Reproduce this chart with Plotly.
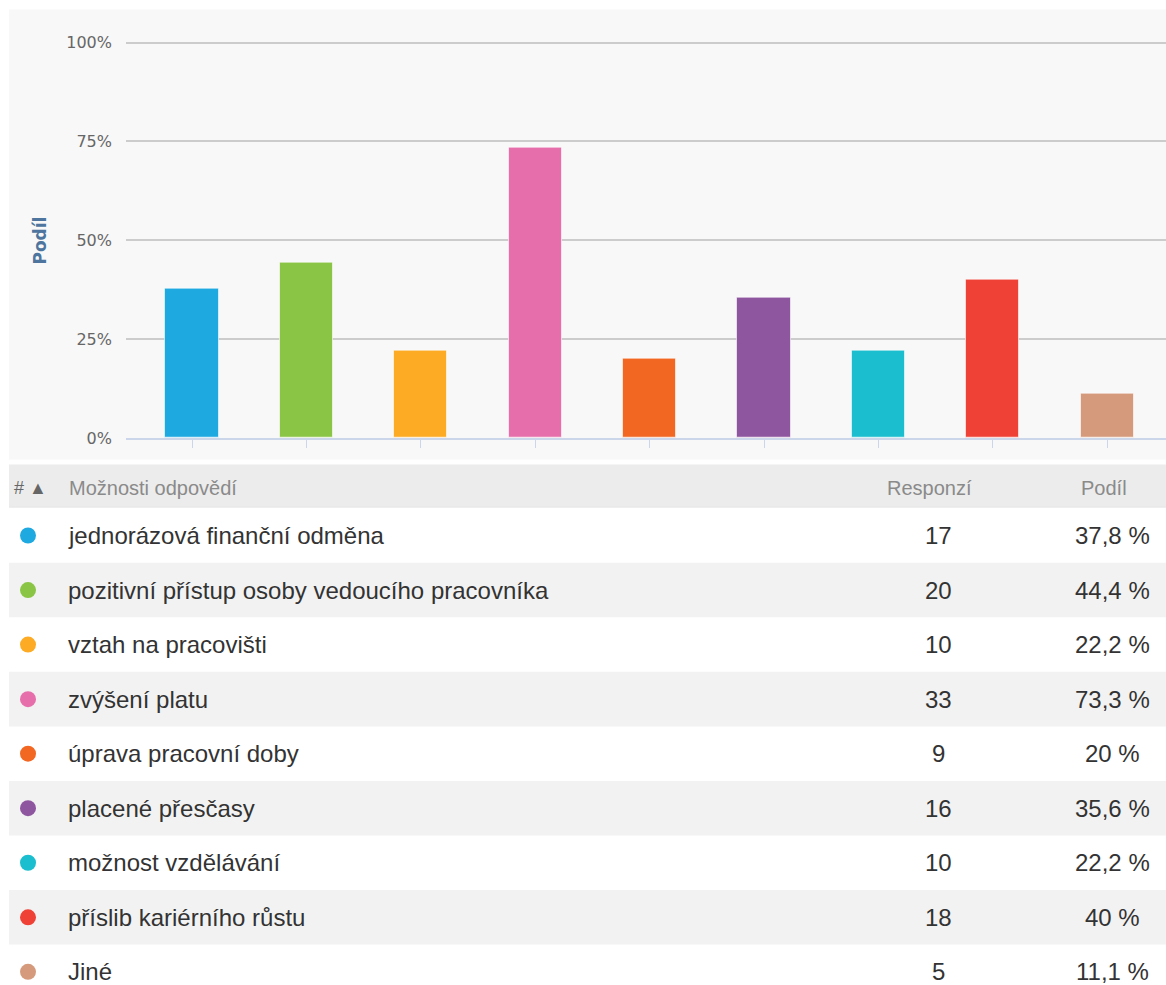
import plotly.graph_objects as go

# ---- data ----
categories = [
    "jednorázová finanční odměna",
    "pozitivní přístup osoby vedoucího pracovníka",
    "vztah na pracovišti",
    "zvýšení platu",
    "úprava pracovní doby",
    "placené přesčasy",
    "možnost vzdělávání",
    "příslib kariérního růstu",
    "Jiné",
]
responses = [17, 20, 10, 33, 9, 16, 10, 18, 5]
shares = [37.8, 44.4, 22.2, 73.3, 20.0, 35.6, 22.2, 40.0, 11.1]
share_labels = ["37,8 %", "44,4 %", "22,2 %", "73,3 %", "20 %", "35,6 %", "22,2 %", "40 %", "11,1 %"]
colors = ["#1fa9e1", "#8bc546", "#fdab24", "#e66fab", "#f26722", "#8f56a0",
          "#1bbecf", "#ef4136", "#d59a7c"]
y_ticks = [0, 25, 50, 75, 100]
y_tick_labels = ["0%", "25%", "50%", "75%", "100%"]
header = ["# ▲", "Možnosti odpovědí", "Responzí", "Podíl"]

W, H = 1166, 985
SY, OY = 0.989, 1.4  # vertical compensation of the photographed page


def pset(p):
    return (p - OY) / SY


def py(p):
    """target pixel y (top-down) to paper y"""
    return 1 - pset(p) / H


def px(p):
    return p / W


fig = go.Figure()

# ---- bar chart ----
xi = list(range(len(categories)))
fig.add_trace(go.Bar(
    x=xi, y=shares, marker=dict(color=colors, line=dict(color="rgba(255,255,255,0.6)", width=1)),
    width=0.465, xaxis="x", yaxis="y", showlegend=False, hoverinfo="skip",
))

# ---- table dots ----
rows = list(range(len(categories)))
fig.add_trace(go.Scatter(
    x=[28] * len(rows), y=rows, mode="markers", cliponaxis=False,
    marker=dict(color=colors, size=16, line=dict(width=0)),
    xaxis="x2", yaxis="y2", showlegend=False, hoverinfo="skip",
))

shapes = []
# chart background
shapes.append(dict(type="rect", xref="paper", yref="paper", x0=px(9), x1=1, y0=py(460), y1=py(10),
                   fillcolor="#f8f8f8", line=dict(width=0), layer="below"))
# table header background
shapes.append(dict(type="rect", xref="paper", yref="paper", x0=px(9), x1=1, y0=py(507), y1=py(465),
                   fillcolor="#ececec", line=dict(width=0), layer="below"))
shapes.append(dict(type="line", xref="paper", yref="paper", x0=px(9), x1=1, y0=py(507.5), y1=py(507.5),
                   line=dict(color="#dddddd", width=1), layer="below"))
# alternating rows
for i in rows:
    if i % 2 == 1:
        shapes.append(dict(type="rect", xref="x2", yref="y2", x0=9, x1=W, y0=i - 0.5, y1=i + 0.5,
                           fillcolor="#f2f2f2", line=dict(width=0), layer="below"))

annotations = []
# axis title
annotations.append(dict(text="<b>Podíl</b>", xref="paper", yref="paper", x=px(40), y=py(241),
                        textangle=-90, showarrow=False, xanchor="center", yanchor="middle",
                        font=dict(family="DejaVu Sans", size=17, color="#4d759e")))

tfont = dict(family="Liberation Sans", size=24, color="#333333")
hfont = dict(family="Liberation Sans", size=20, color="#8a8a8a")
hy = -0.88
annotations.append(dict(text=header[0], xref="x2", yref="y2", x=12, y=hy, showarrow=False,
                        xanchor="left", yanchor="middle",
                        font=dict(family="Liberation Sans", size=18, color="#666666")))
annotations.append(dict(text=header[1], xref="x2", yref="y2", x=67, y=hy, showarrow=False,
                        xanchor="left", yanchor="middle", font=hfont))
annotations.append(dict(text=header[2], xref="x2", yref="y2", x=929, y=hy, showarrow=False,
                        xanchor="center", yanchor="middle", font=hfont))
annotations.append(dict(text=header[3], xref="x2", yref="y2", x=1104, y=hy, showarrow=False,
                        xanchor="center", yanchor="middle", font=hfont))
for i in rows:
    annotations.append(dict(text=categories[i], xref="x2", yref="y2", x=66, y=i, showarrow=False,
                            xanchor="left", yanchor="middle", font=tfont))
    annotations.append(dict(text=str(responses[i]), xref="x2", yref="y2", x=938, y=i, showarrow=False,
                            xanchor="center", yanchor="middle", font=tfont))
    annotations.append(dict(text=share_labels[i], xref="x2", yref="y2", x=1112, y=i, showarrow=False,
                            xanchor="center", yanchor="middle", font=tfont))

# y axis: 0% at target pixel 438, 100% at 43
p0, p100 = pset(438.5), pset(43)
ppp = (p0 - p100) / 100.0
ytop = 102
y_dom0 = 1 - p0 / H
y_dom1 = 1 - (p0 - ytop * ppp) / H

# x mapping: centers at 192 + 114.4*i, plot from 126 to 1166
step = 114.4
r0 = -(192 - 126) / step
r1 = r0 + (1166 - 126) / step

# table axis: row i center at target pixel 536 + 54.5*i
c0 = pset(536)
rstep = 54.55 / SY
t_top = (pset(465) - c0) / rstep
t_bot = (H - c0) / rstep

fig.update_layout(
    width=W, height=H, margin=dict(l=0, r=0, t=0, b=0),
    paper_bgcolor="white", plot_bgcolor="rgba(0,0,0,0)",
    bargap=0,
    xaxis=dict(domain=[px(126), 1], range=[r0, r1], showticklabels=False,
               showgrid=False, zeroline=False, showline=True, linecolor="#ccd6eb", linewidth=1.5,
               ticks="outside", tickvals=xi, ticklen=8, tickcolor="#ccd6eb", tickwidth=1),
    yaxis=dict(domain=[y_dom0, y_dom1], range=[0, ytop], tickvals=y_ticks, ticktext=y_tick_labels,
               showgrid=True, gridcolor="#cccccc", gridwidth=1.5, zeroline=False, showline=False,
               ticks="", ticklabelstandoff=13,
               tickfont=dict(family="DejaVu Sans", size=16, color="#666666")),
    xaxis2=dict(domain=[0, 1], range=[0, W], visible=False, anchor="y2"),
    yaxis2=dict(domain=[0, 1 - pset(465) / H], range=[t_bot, t_top], visible=False, anchor="x2"),
    shapes=shapes, annotations=annotations,
)

fig.write_html("out.html")
